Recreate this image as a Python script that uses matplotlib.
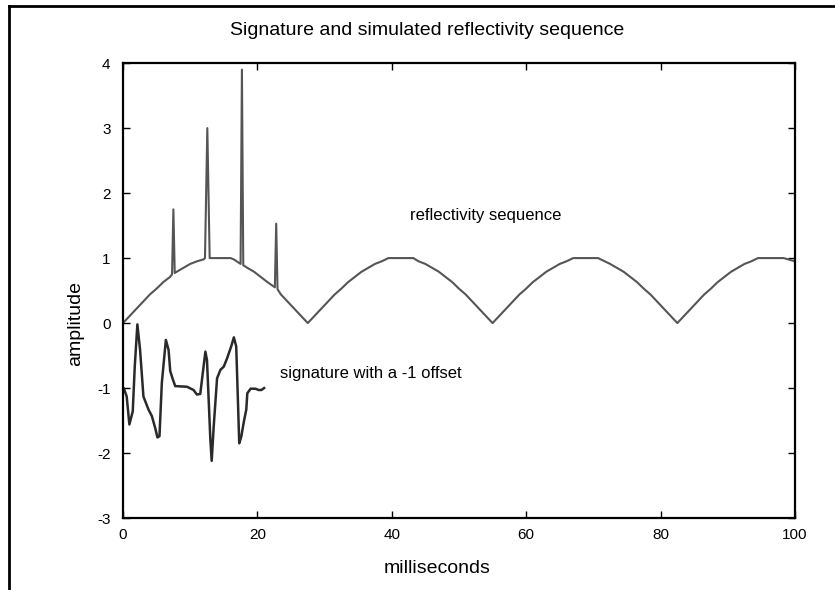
import matplotlib
matplotlib.use("Agg")
import matplotlib.pyplot as plt
from matplotlib.lines import Line2D

# reflectivity sequence (ms, amplitude), spikes included
refl_ms = [0, 1, 2, 3, 4, 5, 6, 7, 7.3, 7.5, 7.7, 8, 9, 10, 11, 12, 12.2, 12.55, 12.9, 16,
           16.5, 17.5, 17.7, 17.9, 18.5, 19.5, 20.5, 21.5, 22.6, 22.8, 23.0, 23.5, 24.5,
           25.5, 26.5, 27.5,
           28.5, 29.5, 30.5, 31.5, 32.5, 33.5, 34.5, 35.5, 36.5, 37.5, 38.5, 39.3, 39.5,
           43.2, 44, 45, 46, 47, 48, 49, 50, 51, 52, 53, 54, 55,
           56, 57, 58, 59, 60, 61, 62, 63, 64, 65, 66, 66.8, 67,
           70.7, 71.5, 72.5, 73.5, 74.5, 75.5, 76.5, 77.5, 78.5, 79.5, 80.5, 81.5, 82.5,
           83.5, 84.5, 85.5, 86.5, 87.5, 88.5, 89.5, 90.5, 91.5, 92.5, 93.5, 94.3, 94.5,
           98.3, 99, 100]
refl_amp = [0, 0.11, 0.22, 0.33, 0.44, 0.53, 0.63, 0.71, 0.75, 1.75, 0.77, 0.79, 0.85, 0.91,
            0.95, 0.98, 1.0, 3.0, 1.0, 1.0,
            0.98, 0.91, 3.9, 0.89, 0.85, 0.79, 0.71, 0.63, 0.55, 1.53, 0.52, 0.44, 0.33,
            0.22, 0.11, 0.0,
            0.11, 0.22, 0.33, 0.44, 0.53, 0.63, 0.71, 0.79, 0.85, 0.91, 0.95, 0.99, 1.0,
            1.0, 0.95, 0.91, 0.85, 0.79, 0.71, 0.63, 0.53, 0.44, 0.33, 0.22, 0.11, 0.0,
            0.11, 0.22, 0.33, 0.44, 0.53, 0.63, 0.71, 0.79, 0.85, 0.91, 0.95, 0.99, 1.0,
            1.0, 0.96, 0.91, 0.85, 0.79, 0.71, 0.63, 0.53, 0.44, 0.33, 0.22, 0.11, 0.0,
            0.11, 0.22, 0.33, 0.44, 0.53, 0.63, 0.71, 0.79, 0.85, 0.91, 0.95, 0.99, 1.0,
            1.0, 0.98, 0.95]

# source signature, already shifted by -1
sig_ms = [0.15, 0.55, 0.95, 1.45, 1.75, 2.14, 2.54, 3.04, 3.79, 4.29, 4.78, 5.13, 5.43,
          5.78, 6.38, 6.78, 7.03, 7.43, 7.77, 9.52, 10.5, 11.0, 11.5, 12.26, 12.5, 13.0,
          13.2, 13.5, 14.0, 14.5, 15.0, 15.5, 16.1, 16.5, 16.85, 17.1, 17.3, 17.6, 18.0,
          18.35, 18.5, 19.0, 19.7, 20.2, 20.6, 21.0]
sig_amp = [-1.01, -1.13, -1.56, -1.36, -0.67, -0.02, -0.41, -1.13, -1.33, -1.43, -1.61, -1.76, -1.74,
           -0.92, -0.26, -0.41, -0.74, -0.87, -0.97, -0.98, -1.03, -1.10, -1.09, -0.44, -0.57, -1.79,
           -2.12, -1.59, -0.85, -0.72, -0.67, -0.54, -0.36, -0.22, -0.36, -1.18, -1.85, -1.75, -1.51,
           -1.33, -1.08, -1.01, -1.01, -1.03, -1.03, -1.0]

x_ticks = [0, 20, 40, 60, 80, 100]
y_ticks = [-3, -2, -1, 0, 1, 2, 3, 4]

plt.rcParams['font.family'] = ['Liberation Sans', 'DejaVu Sans']
plt.rcParams['axes.unicode_minus'] = False

fig = plt.figure(figsize=(8.35, 5.9), dpi=100)
ax = fig.add_axes([0.1473, 0.122, 0.8047, 0.771])

ax.plot(refl_ms, refl_amp, color='#555555', lw=1.5)
ax.plot(sig_ms, sig_amp, color='#2a2a2a', lw=1.8)

ax.set_xlim(0, 100)
ax.set_ylim(-3, 4)
ax.set_xticks(x_ticks)
ax.set_yticks(y_ticks)
ax.tick_params(direction='in', length=5, width=1, top=True, right=True,
               labelsize=11, colors='black')
ax.tick_params(axis='y', pad=9)
ax.tick_params(axis='x', pad=7)
for s in ax.spines.values():
    s.set_linewidth(1.6)

ax.text(42.7, 1.65, 'reflectivity sequence', fontsize=12, va='center')
ax.text(23.4, -0.77, 'signature with a -1 offset', fontsize=12, va='center')

fig.text(0.511, 0.949, 'Signature and simulated reflectivity sequence',
         ha='center', va='center', fontsize=14)
fig.text(0.523, 0.037, 'milliseconds', ha='center', va='center', fontsize=14)
fig.text(0.09, 0.452, 'amplitude', ha='center', va='center', rotation=90, fontsize=14)

# partial border round the figure (left and top only)
fig.add_artist(Line2D([0.0108, 0.0108], [0, 0.99], transform=fig.transFigure,
                      color='black', lw=2))
fig.add_artist(Line2D([0.0108, 1.0], [0.99, 0.99], transform=fig.transFigure,
                      color='black', lw=2))

fig.savefig('out.png', dpi=100, facecolor='white')
